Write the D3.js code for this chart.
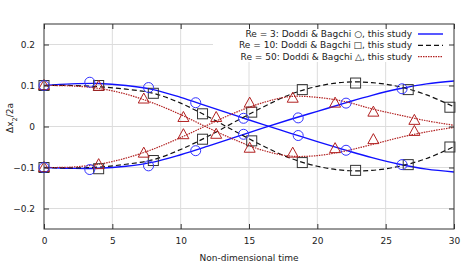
<!DOCTYPE html>
<html>
<head>
<meta charset="utf-8">
<script src="https://cdn.jsdelivr.net/npm/d3@7"></script>
<style>
  body { margin: 0; background: #fff; }
  text { font-family: "DejaVu Sans", sans-serif; fill: #222; }
</style>
</head>
<body>
<svg id="chart" width="470" height="279"></svg>
<script>
// simulation curves, sampled every 2 time units
var tLine = [0, 2, 4, 6, 8, 10, 12, 14, 16, 18, 20, 22, 24, 26, 28, 30];
var re3Up = [0.100, 0.104, 0.105, 0.100, 0.090, 0.071, 0.049, 0.027, 0.005, -0.016, -0.037, -0.057, -0.076, -0.092, -0.104, -0.111];
var re3Lo = [-0.100, -0.102, -0.102, -0.097, -0.087, -0.069, -0.048, -0.026, -0.004, 0.017, 0.037, 0.057, 0.076, 0.092, 0.104, 0.111];
var re10Up = [0.100, 0.100, 0.097, 0.091, 0.081, 0.057, 0.024, -0.012, -0.047, -0.077, -0.097, -0.107, -0.107, -0.097, -0.078, -0.049];
var re10Lo = [-0.100, -0.101, -0.099, -0.092, -0.081, -0.056, -0.024, 0.012, 0.047, 0.078, 0.098, 0.108, 0.107, 0.097, 0.077, 0.048];
var re50Up = [0.100, 0.099, 0.093, 0.079, 0.057, 0.029, -0.003, -0.033, -0.058, -0.072, -0.071, -0.060, -0.044, -0.027, -0.013, -0.002];
var re50Lo = [-0.100, -0.099, -0.092, -0.077, -0.055, -0.027, 0.004, 0.034, 0.058, 0.073, 0.071, 0.061, 0.043, 0.028, 0.014, 0.003];

// Doddi & Bagchi reference points
var t3 = [0, 3.35, 7.65, 11.1, 14.6, 18.6, 22.1, 26.2];
var db3Up = [0.1, 0.108, 0.095, 0.058, 0.020, -0.022, -0.058, -0.093];
var db3Lo = [-0.1, -0.105, -0.096, -0.059, -0.019, 0.021, 0.057, 0.092];
var t10 = [0, 4.0, 8.0, 11.6, 15.2, 18.9, 22.8, 26.65, 29.7];
var db10Up = [0.1, 0.1, 0.081, 0.031, -0.035, -0.088, -0.107, -0.093, -0.050];
var db10Lo = [-0.1, -0.103, -0.083, -0.031, 0.035, 0.090, 0.106, 0.090, 0.047];
var t50 = [0, 4.0, 7.3, 10.2, 12.6, 15.05, 18.2, 21.3, 24.1, 27.1];
var db50Up = [0.1, 0.098, 0.067, 0.022, -0.019, -0.053, -0.065, -0.054, -0.032, -0.012];
var db50Lo = [-0.1, -0.093, -0.065, -0.020, 0.022, 0.057, 0.069, 0.057, 0.035, 0.015];

var xTicks = [0, 5, 10, 15, 20, 25, 30];
var yTicks = [-0.2, -0.1, 0, 0.1, 0.2];
var legendLabels = ["Re = 3: Doddi & Bagchi \u25cb, this study",
                    "Re = 10: Doddi & Bagchi \u25a1, this study",
                    "Re = 50: Doddi & Bagchi \u25b3, this study"];

var svg = d3.select("#chart"),
    margin = {top: 24, right: 16, bottom: 50, left: 44},
    width = 470 - margin.left - margin.right,
    height = 279 - margin.top - margin.bottom,
    g = svg.append("g").attr("transform", "translate(" + margin.left + "," + margin.top + ")");

var x = d3.scaleLinear().domain([0, 30]).range([0, width]);
var y = d3.scaleLinear().domain([-0.25, 0.25]).range([height, 0]);

// grid
g.append("g").selectAll("line").data(xTicks.slice(1, -1)).enter().append("line")
    .attr("x1", d => x(d)).attr("x2", d => x(d)).attr("y1", 0).attr("y2", height)
    .attr("stroke", "#dcdcdc").attr("stroke-width", 1);
g.append("g").selectAll("line").data(yTicks).enter().append("line")
    .attr("x1", 0).attr("x2", width).attr("y1", d => y(d)).attr("y2", d => y(d))
    .attr("stroke", "#dcdcdc").attr("stroke-width", 1);

// legend box hides grid under it
g.append("rect").attr("x", 169).attr("y", 1).attr("width", width - 170).attr("height", 37).attr("fill", "#fff");

svg.append("defs").append("clipPath").attr("id", "clip")
    .append("rect").attr("width", width).attr("height", height);

var plot = g.append("g").attr("clip-path", "url(#clip)");

var line = d3.line().x(d => x(d[0])).y(d => y(d[1])).curve(d3.curveCatmullRom);

var series = [
  {up: re3Up, lo: re3Lo, color: "#1010ff", dash: null, w: 1.4},
  {up: re10Up, lo: re10Lo, color: "#111", dash: "5,3", w: 1.2},
  {up: re50Up, lo: re50Lo, color: "#b22222", dash: "1.5,1", w: 1.2}
];

series.forEach(function(s) {
  [s.up, s.lo].forEach(function(v) {
    plot.append("path")
      .datum(tLine.map((t, i) => [t, v[i]]))
      .attr("fill", "none").attr("stroke", s.color)
      .attr("stroke-width", s.w).attr("stroke-dasharray", s.dash)
      .attr("d", line);
  });
});

// markers
var pts3 = t3.map((t, i) => [t, db3Up[i]]).concat(t3.map((t, i) => [t, db3Lo[i]]));
var pts10 = t10.map((t, i) => [t, db10Up[i]]).concat(t10.map((t, i) => [t, db10Lo[i]]));
var pts50 = t50.map((t, i) => [t, db50Up[i]]).concat(t50.map((t, i) => [t, db50Lo[i]]));

var mk = g.append("g");
mk.selectAll(".sq").data(pts10).enter().append("rect")
  .attr("x", d => x(d[0]) - 5).attr("y", d => y(d[1]) - 5)
  .attr("width", 10).attr("height", 10)
  .attr("fill", "none").attr("stroke", "#333").attr("stroke-width", 1);
mk.selectAll(".tri").data(pts50).enter().append("path")
  .attr("d", d => { var cx = x(d[0]), cy = y(d[1]);
      return "M" + cx + "," + (cy - 6) + "L" + (cx + 5.5) + "," + (cy + 4) + "L" + (cx - 5.5) + "," + (cy + 4) + "Z"; })
  .attr("fill", "none").attr("stroke", "#b22222").attr("stroke-width", 1);
mk.selectAll(".ci").data(pts3).enter().append("circle")
  .attr("cx", d => x(d[0])).attr("cy", d => y(d[1])).attr("r", 5)
  .attr("fill", "none").attr("stroke", "#3333ff").attr("stroke-width", 1);

// frame
g.append("rect").attr("width", width).attr("height", height)
  .attr("fill", "none").attr("stroke", "#333").attr("stroke-width", 1);

// inward ticks on all four sides
var xAxisB = d3.axisBottom(x).tickValues(xTicks).tickSize(-5).tickPadding(9).tickFormat(d3.format("d"));
var xAxisT = d3.axisTop(x).tickValues(xTicks).tickSize(-5).tickFormat("");
var yAxisL = d3.axisLeft(y).tickValues(yTicks).tickSize(-5).tickPadding(9).tickFormat(d => d === 0 ? "0" : d3.format(".1f")(d));
var yAxisR = d3.axisRight(y).tickValues(yTicks).tickSize(-5).tickFormat("");

[g.append("g").attr("transform", "translate(0," + height + ")").call(xAxisB),
 g.append("g").call(xAxisT),
 g.append("g").call(yAxisL),
 g.append("g").attr("transform", "translate(" + width + ",0)").call(yAxisR)
].forEach(function(a) {
  a.select(".domain").remove();
  a.selectAll("line").attr("stroke", "#333");
  a.selectAll("text").style("font-size", "9px").attr("fill", "#222");
});

// axis titles
g.append("text").attr("x", width / 2).attr("y", height + 32)
  .attr("text-anchor", "middle").style("font-size", "9px").text("Non-dimensional time");

var yl = svg.append("text").attr("transform", "translate(13,118) rotate(-90)")
  .attr("text-anchor", "middle").style("font-size", "9px");
yl.append("tspan").text("\u0394x");
yl.append("tspan").attr("baseline-shift", "sub").style("font-size", "6.5px").text("2");
yl.append("tspan").text("/2a");

// legend
var leg = g.append("g");
legendLabels.forEach(function(lab, i) {
  var ly = 10 + i * 11.3;
  leg.append("text").attr("x", 368).attr("y", ly).attr("dy", "0.35em")
    .attr("text-anchor", "end").style("font-size", "9px").text(lab);
  leg.append("line").attr("x1", 374).attr("x2", 399).attr("y1", ly).attr("y2", ly)
    .attr("stroke", series[i].color).attr("stroke-width", series[i].w)
    .attr("stroke-dasharray", series[i].dash);
});
</script>
</body>
</html>
